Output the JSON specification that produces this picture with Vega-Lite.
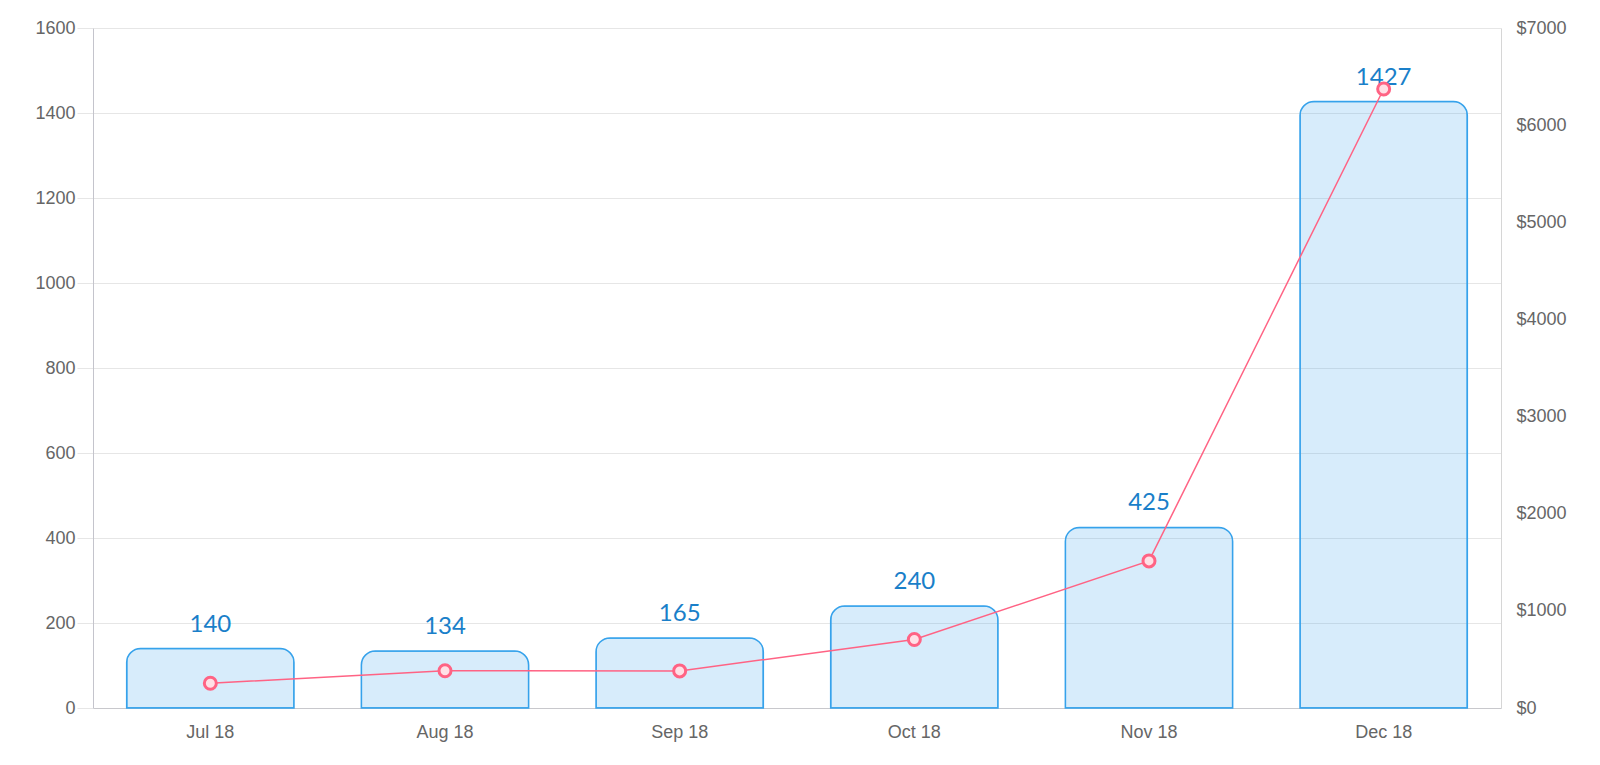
{
  "$schema": "https://vega.github.io/schema/vega-lite/v6.json",
  "width": 1408,
  "height": 680,
  "autosize": "none",
  "padding": {"left": 93, "top": 28, "right": 99, "bottom": 57},
  "background": "white",
  "data": {
    "values": [
      {"month": "Jul 18", "orders": 140, "revenue": 255},
      {"month": "Aug 18", "orders": 134, "revenue": 384},
      {"month": "Sep 18", "orders": 165, "revenue": 382},
      {"month": "Oct 18", "orders": 240, "revenue": 705},
      {"month": "Nov 18", "orders": 425, "revenue": 1514},
      {"month": "Dec 18", "orders": 1427, "revenue": 6372}
    ]
  },
  "config": {
    "view": {"stroke": null},
    "axis": {
      "labelFont": "Liberation Sans",
      "labelFontSize": 18,
      "labelColor": "#666666",
      "gridColor": "#e6e6e6",
      "domainColor": "#c4c4cc",
      "tickColor": "#e6e6e6",
      "title": null
    }
  },
  "encoding": {
    "x": {
      "field": "month",
      "type": "nominal",
      "sort": null,
      "scale": {"paddingInner": 0.287, "paddingOuter": 0.1435},
      "axis": {"labelAngle": 0, "ticks": false, "labelPadding": 15, "domainColor": "#c8c8cc"}
    }
  },
  "layer": [
    {
      "encoding": {
        "y": {
          "field": "orders",
          "type": "quantitative",
          "scale": {"domain": [0, 1600], "nice": false},
          "axis": {
            "values": [0, 200, 400, 600, 800, 1000, 1200, 1400, 1600],
            "format": "d",
            "tickSize": 16,
            "labelPadding": 2,
            "grid": true,
            "orient": "left"
          }
        }
      },
      "layer": [
        {
          "mark": {
            "type": "bar",
            "fill": "#36a2eb",
            "fillOpacity": 0.2,
            "stroke": "#36a2eb",
            "strokeWidth": 1.5,
            "cornerRadiusTopLeft": 14,
            "cornerRadiusTopRight": 14
          }
        },
        {
          "mark": {
            "type": "text",
            "font": "Lato",
            "fontSize": 24,
            "color": "#1a7fc9",
            "baseline": "alphabetic",
            "dy": -17
          },
          "encoding": {"text": {"field": "orders", "type": "quantitative"}}
        }
      ]
    },
    {
      "encoding": {
        "y": {
          "field": "revenue",
          "type": "quantitative",
          "scale": {"domain": [0, 7000], "nice": false},
          "axis": {
            "orient": "right",
            "values": [0, 1000, 2000, 3000, 4000, 5000, 6000, 7000],
            "labelExpr": "'$' + datum.value",
            "ticks": false,
            "labelPadding": 15,
            "grid": false,
            "domainColor": "#d6d6d6"
          }
        }
      },
      "layer": [
        {
          "mark": {"type": "line", "color": "#ff6384", "strokeWidth": 1.5}
        },
        {
          "mark": {
            "type": "point",
            "shape": "circle",
            "size": 144,
            "filled": true,
            "fill": "#ffe0e6",
            "stroke": "#ff6384",
            "strokeWidth": 3,
            "opacity": 1
          }
        }
      ]
    }
  ],
  "resolve": {"scale": {"y": "independent"}}
}
